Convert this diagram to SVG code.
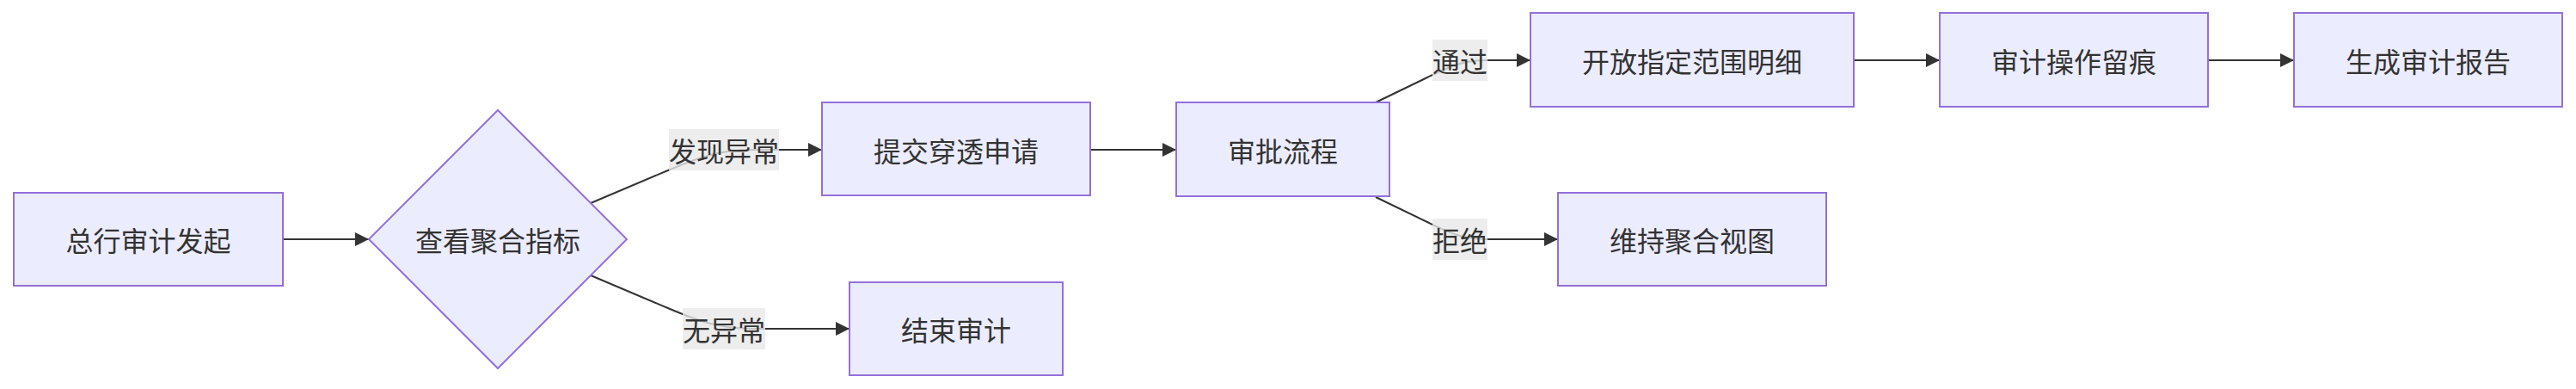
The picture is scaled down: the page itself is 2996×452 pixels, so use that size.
<svg xmlns="http://www.w3.org/2000/svg" width="2996" height="452" viewBox="0 0 2996 452">
<style>
.node rect,.node polygon{fill:#ECECFF;stroke:#9370DB;stroke-width:2}
text{font-family:"Noto Sans CJK SC","Noto Sans",sans-serif;font-size:32px;fill:#333;text-anchor:middle;dominant-baseline:central}
.edge{fill:none;stroke:#333;stroke-width:2}
.lbl rect{fill:#e8e8e8;fill-opacity:0.8;stroke:none}
</style>
<defs>
<marker id="arrow" viewBox="0 0 10 10" refX="10" refY="5" markerWidth="17" markerHeight="16" markerUnits="userSpaceOnUse" orient="auto">
<path d="M0,0 L10,5 L0,10 z" fill="#333"/>
</marker>
</defs>
<rect width="2996" height="452" fill="#fff"/>
<g id="connectors">
<path class="edge" d="M329,278 L429,278" marker-end="url(#arrow)"/>
<path class="edge" d="M687,236 L778,197.5 C810,184 835,174 875,174 L956,174" marker-end="url(#arrow)"/>
<path class="edge" d="M687,320 L778,358.5 C810,372 835,382 875,382 L988,382" marker-end="url(#arrow)"/>
<path class="edge" d="M1268,174 L1368,174" marker-end="url(#arrow)"/>
<path class="edge" d="M1600,119 L1660,90 C1685,78 1700,70 1730,70 L1780,70" marker-end="url(#arrow)"/>
<path class="edge" d="M1600,229 L1660,258 C1685,270 1700,278 1730,278 L1812,278" marker-end="url(#arrow)"/>
<path class="edge" d="M2156,70 L2256,70" marker-end="url(#arrow)"/>
<path class="edge" d="M2568,70 L2668,70" marker-end="url(#arrow)"/>
</g>
<g id="edge-labels">
<g class="lbl"><rect x="778" y="150" width="128" height="48"/><text x="842" y="174">发现异常</text></g>
<g class="lbl"><rect x="794" y="358" width="96" height="48"/><text x="842" y="382">无异常</text></g>
<g class="lbl"><rect x="1666" y="46" width="64" height="48"/><text x="1698" y="70">通过</text></g>
<g class="lbl"><rect x="1666" y="254" width="64" height="48"/><text x="1698" y="278">拒绝</text></g>
</g>
<g id="start" class="node"><rect x="16" y="224" width="313" height="108"/><text x="172.5" y="278">总行审计发起</text></g>
<g id="check" class="node"><polygon points="579,128 729,278 579,428 429,278"/><text x="579" y="278">查看聚合指标</text></g>
<g id="submit" class="node"><rect x="956" y="119" width="312" height="108"/><text x="1112" y="174">提交穿透申请</text></g>
<g id="end" class="node"><rect x="988" y="328" width="248" height="108"/><text x="1112" y="382">结束审计</text></g>
<g id="approve" class="node"><rect x="1368" y="119" width="248" height="109"/><text x="1492" y="174">审批流程</text></g>
<g id="open" class="node"><rect x="1780" y="15" width="376" height="109"/><text x="1968" y="70">开放指定范围明细</text></g>
<g id="keep" class="node"><rect x="1812" y="224" width="312" height="108"/><text x="1968" y="278">维持聚合视图</text></g>
<g id="trace" class="node"><rect x="2256" y="15" width="312" height="109"/><text x="2412" y="70">审计操作留痕</text></g>
<g id="report" class="node"><rect x="2668" y="15" width="312" height="109"/><text x="2824" y="70">生成审计报告</text></g>
</svg>
